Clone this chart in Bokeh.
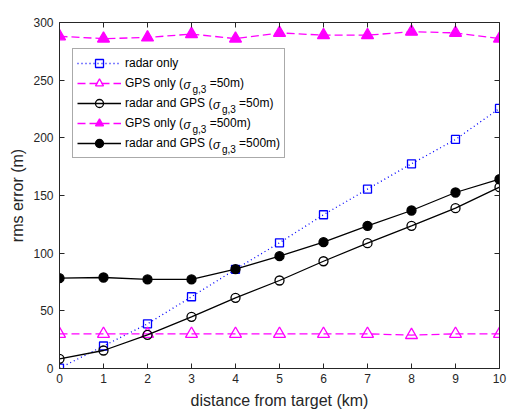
from bokeh.plotting import figure
from bokeh.models import (Legend, LegendItem, LinearAxis, FixedTicker, Label,
                          CustomJSTickFormatter, Range1d)
from bokeh.embed import file_html
from bokeh.resources import INLINE

# ---- data ----
distance_km = [0, 1, 2, 3, 4, 5, 6, 7, 8, 9, 10]
radar_only = [0.3, 19.5, 38.7, 62.2, 86, 109, 133.3, 155.5, 177.5, 198.6, 225.5]
gps_only_50 = [30, 30, 30, 30, 30, 30, 30, 30, 29, 30, 30]
radar_gps_50 = [8.4, 15.6, 29.2, 44.8, 61.3, 76.3, 93, 108.7, 123.7, 139, 157.2]
gps_only_500 = [288, 286, 287, 290, 286, 291, 289, 289, 292, 291, 286]
radar_gps_500 = [78.3, 78.9, 77.2, 77.2, 86.1, 97.4, 109.5, 123.7, 137, 152.6, 164.1]

x_ticks = [0, 1, 2, 3, 4, 5, 6, 7, 8, 9, 10]
y_ticks = [0, 50, 100, 150, 200, 250, 300]

title_text = "Equation (12)"
x_label = "distance from target (km)"
y_label = "rms error (m)"

FONT = "Liberation Sans"
AX = "#262626"
BLUE = "#0000ff"
MAG = "#ff00ff"

p = figure(width=510, height=414, output_backend="svg", toolbar_location=None,
           x_range=Range1d(0, 10), y_range=Range1d(0, 300),
           min_border_left=59, min_border_right=11, min_border_top=22,
           min_border_bottom=46)
p.outline_line_color = None
p.xgrid.visible = False
p.ygrid.visible = False
p.background_fill_color = "white"
p.border_fill_color = "white"


def style_axis(ax, ticks, show_labels=True):
    ax.ticker = FixedTicker(ticks=ticks)
    ax.axis_line_color = AX
    ax.axis_line_width = 1
    ax.major_tick_line_color = AX
    ax.major_tick_in = 5
    ax.major_tick_out = 0
    ax.minor_tick_line_color = None
    ax.major_label_text_font = FONT
    ax.major_label_text_font_size = "12px"
    ax.major_label_text_color = AX
    ax.axis_label_text_font = FONT
    ax.axis_label_text_font_style = "normal"
    ax.axis_label_text_color = AX
    if not show_labels:
        ax.formatter = CustomJSTickFormatter(code="return ''")
        ax.major_label_standoff = 0


style_axis(p.xaxis[0], x_ticks)
style_axis(p.yaxis[0], y_ticks)
p.xaxis[0].axis_label = x_label
p.yaxis[0].axis_label = y_label
p.xaxis[0].axis_label_text_font_size = "16px"
p.yaxis[0].axis_label_text_font_size = "16px"
p.xaxis[0].major_label_standoff = 5
p.yaxis[0].major_label_standoff = 6
p.xaxis[0].axis_label_standoff = 6
p.yaxis[0].axis_label_standoff = 4

top_ax = LinearAxis()
style_axis(top_ax, x_ticks, show_labels=False)
p.add_layout(top_ax, "above")
right_ax = LinearAxis()
style_axis(right_ax, y_ticks, show_labels=False)
p.add_layout(right_ax, "right")

LW = 1.3

# radar only
r1l = p.line(distance_km, radar_only, line_color=BLUE, line_width=LW, line_dash="1 3")
r1m = p.scatter(distance_km, radar_only, marker="square", size=8, line_color=BLUE,
                fill_color=None, line_width=LW)
# GPS only 50m
r2l = p.line(distance_km, gps_only_50, line_color=MAG, line_width=LW, line_dash="8 4")
r2m = p.scatter(distance_km, gps_only_50, marker="triangle", size=12, line_color=MAG,
                fill_color=None, line_width=LW)
# radar and GPS 50m
r3l = p.line(distance_km, radar_gps_50, line_color="black", line_width=LW)
r3m = p.scatter(distance_km, radar_gps_50, marker="circle", size=9, line_color="black",
                fill_color=None, line_width=LW)
# GPS only 500m
r4l = p.line(distance_km, gps_only_500, line_color=MAG, line_width=LW, line_dash="8 4")
r4m = p.scatter(distance_km, gps_only_500, marker="triangle", size=12, line_color=MAG,
                fill_color=MAG, line_width=LW)
# radar and GPS 500m
r5l = p.line(distance_km, radar_gps_500, line_color="black", line_width=LW)
r5m = p.scatter(distance_km, radar_gps_500, marker="circle", size=9, line_color="black",
                fill_color="black", line_width=LW)

NB = "\u00a0"
PH = NB * 8  # placeholder for sigma + subscript
labels = [
    "radar only",
    "GPS only (" + PH + "=50m)",
    "radar and GPS (" + PH + "=50m)",
    "GPS only (" + PH + "=500m)",
    "radar and GPS (" + PH + "=500m)",
]
items = [
    LegendItem(label=labels[0], renderers=[r1l, r1m]),
    LegendItem(label=labels[1], renderers=[r2l, r2m]),
    LegendItem(label=labels[2], renderers=[r3l, r3m]),
    LegendItem(label=labels[3], renderers=[r4l, r4m]),
    LegendItem(label=labels[4], renderers=[r5l, r5m]),
]
legend = Legend(items=items, location=(13, 210), padding=4, spacing=0,
                glyph_width=44, glyph_height=20, label_height=20, label_standoff=4,
                label_text_font=FONT, label_text_font_size="12px",
                label_text_color="black", border_line_color="#555555",
                border_line_width=1, background_fill_color="white",
                background_fill_alpha=0, margin=0)
p.add_layout(legend, "center")

# sigma + subscript overlays (positioned relative to frame top-left, px)
text_x0 = 13 + 4 + 44 + 4   # legend text start from frame left
prefix_w = {"GPS only (": 58.0, "radar and GPS (": 87.4}
rows = [(1, "GPS only ("), (2, "radar and GPS ("), (3, "GPS only ("), (4, "radar and GPS (")]
legend_top = 28  # from frame top
for idx, pre in rows:
    cy = legend_top + 4 + 10 + 20 * idx
    sx = text_x0 + prefix_w[pre]
    p.add_layout(Label(x=0, y=300, x_offset=sx + 1, y_offset=-cy, text="\u03c3",
                       text_font=FONT, text_font_size="12px", text_font_style="italic",
                       text_color="black", text_baseline="middle", text_align="left"))
    p.add_layout(Label(x=0, y=300, x_offset=sx + 10, y_offset=-(cy + 5), text="g,3",
                       text_font=FONT, text_font_size="10px",
                       text_color="black", text_baseline="middle", text_align="left"))

# title
p.add_layout(Label(x=5, y=300, y_offset=11, text=title_text, text_font=FONT,
                   text_font_size="15px", text_color="black", text_align="center",
                   text_baseline="middle"))

open("out.html", "w").write(file_html(p, INLINE))
